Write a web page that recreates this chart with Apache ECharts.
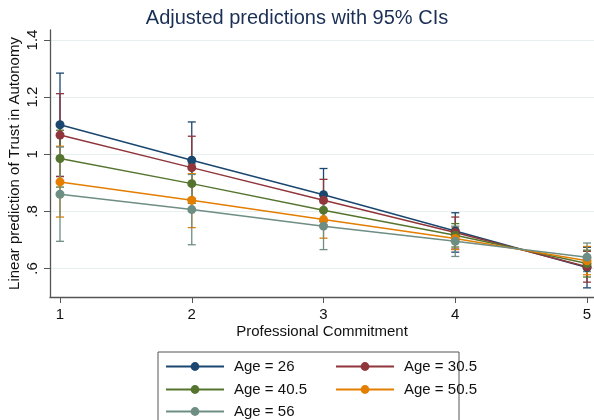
<!DOCTYPE html>
<html>
<head>
<meta charset="utf-8">
<script src="https://cdn.jsdelivr.net/npm/echarts@6/dist/echarts.min.js"></script>
<style>
  html, body { margin: 0; padding: 0; background: #fff; }
  #chart { width: 594px; height: 420px; }
</style>
</head>
<body>
<div id="chart"></div>
<script>
// professional commitment levels
var xValues = [1, 2, 3, 4, 5];
var yTicks = [0.6, 0.8, 1, 1.2, 1.4];

var seriesNames = ['Age = 26', 'Age = 30.5', 'Age = 40.5', 'Age = 50.5', 'Age = 56'];
var seriesColors = ['#1a476f', '#90353b', '#55752f', '#e37e00', '#6e8e84'];

// predictions and 95% CI bounds
var age26 = [1.103, 0.979, 0.858, 0.731, 0.603];
var age26Low = [0.922, 0.845, 0.766, 0.657, 0.532];
var age26High = [1.284, 1.113, 0.950, 0.795, 0.674];

var age30 = [1.067, 0.953, 0.839, 0.726, 0.606];
var age30Low = [0.922, 0.843, 0.763, 0.668, 0.552];
var age30High = [1.212, 1.063, 0.912, 0.780, 0.660];

var age40 = [0.985, 0.897, 0.804, 0.716, 0.617];
var age40Low = [0.885, 0.828, 0.752, 0.675, 0.570];
var age40High = [1.084, 0.966, 0.857, 0.757, 0.664];

var age50 = [0.903, 0.839, 0.771, 0.705, 0.627];
var age50Low = [0.780, 0.743, 0.706, 0.666, 0.578];
var age50High = [1.028, 0.932, 0.836, 0.745, 0.677];

var age56 = [0.860, 0.806, 0.748, 0.695, 0.639];
var age56Low = [0.695, 0.683, 0.666, 0.642, 0.589];
var age56High = [1.025, 0.929, 0.830, 0.748, 0.689];

var preds = [age26, age30, age40, age50, age56];
var lows = [age26Low, age30Low, age40Low, age50Low, age56Low];
var highs = [age26High, age30High, age40High, age50High, age56High];

var font = 'Liberation Sans, Arial, sans-serif';

function errorBar(params, api) {
    var x = api.value(0);
    var top = api.coord([x, api.value(2)]);
    var bot = api.coord([x, api.value(1)]);
    var half = 4;
    var style = { stroke: api.visual('color'), lineWidth: 1.3, fill: null };
    return {
        type: 'group',
        children: [
            { type: 'line', shape: { x1: top[0], y1: top[1], x2: bot[0], y2: bot[1] }, style: style },
            { type: 'line', shape: { x1: top[0] - half, y1: top[1], x2: top[0] + half, y2: top[1] }, style: style },
            { type: 'line', shape: { x1: bot[0] - half, y1: bot[1], x2: bot[0] + half, y2: bot[1] }, style: style }
        ]
    };
}

var series = [];
seriesNames.forEach(function (name, i) {
    series.push({
        name: name + ' CI',
        type: 'custom',
        renderItem: errorBar,
        itemStyle: { color: seriesColors[i] },
        encode: { x: 0, y: [1, 2] },
        data: xValues.map(function (x, k) { return [x, lows[i][k], highs[i][k]]; }),
        z: 1,
        silent: true
    });
});
seriesNames.forEach(function (name, i) {
    series.push({
        name: name,
        type: 'line',
        symbol: 'circle',
        symbolSize: 9,
        color: seriesColors[i],
        lineStyle: { width: 1.5 },
        data: xValues.map(function (x, k) { return [x, preds[i][k]]; }),
        z: 3,
        animation: false
    });
});

// legend slots (two columns inside the box)
var legendPos = [[165, 359], [335, 359], [165, 382], [335, 382], [165, 404]];
var legends = seriesNames.map(function (name, i) {
    return {
        data: [name],
        left: legendPos[i][0],
        top: legendPos[i][1],
        padding: 0,
        itemWidth: 58,
        itemHeight: 11,
        textStyle: { fontSize: 15, fontFamily: font, color: '#111', padding: [0, 0, 0, 5] }
    };
});

var chart = echarts.init(document.getElementById('chart'));
chart.setOption({
    backgroundColor: '#fff',
    animation: false,
    title: {
        text: 'Adjusted predictions with 95% CIs',
        left: 'center',
        top: 3,
        textStyle: { fontSize: 20, fontWeight: 'normal', fontFamily: font, color: '#1a2f55' }
    },
    legend: legends,
    graphic: [{
        type: 'rect',
        shape: { x: 158, y: 352, width: 301, height: 80 },
        style: { fill: null, stroke: '#555', lineWidth: 1 }
    }],
    grid: { left: 50, right: 0, top: 30, bottom: 123, outerBoundsMode: 'none', containLabel: false },
    xAxis: {
        type: 'value',
        min: 0.924,
        max: 5.053,
        name: 'Professional Commitment',
        nameLocation: 'middle',
        nameGap: 27,
        nameMoveOverlap: false,
        nameTextStyle: { fontSize: 15, fontFamily: font, color: '#111' },
        axisLine: { lineStyle: { color: '#555', width: 1.3 } },
        axisTick: { customValues: xValues, length: 6, lineStyle: { color: '#555' } },
        axisLabel: { customValues: xValues, fontSize: 15, fontFamily: font, color: '#111', margin: 10 },
        splitLine: { show: false }
    },
    yAxis: {
        type: 'value',
        min: 0.5,
        max: 1.435,
        name: 'Linear prediction of Trust in Autonomy',
        nameLocation: 'middle',
        nameGap: 28,
        nameMoveOverlap: false,
        nameTextStyle: { fontSize: 15, fontFamily: font, color: '#111' },
        axisLine: { show: true, lineStyle: { color: '#555', width: 1.3 } },
        axisTick: { show: true, customValues: yTicks, length: 6, lineStyle: { color: '#555' } },
        axisLabel: {
            customValues: yTicks,
            rotate: 90,
            fontSize: 15,
            fontFamily: font,
            color: '#111',
            margin: 10,
            formatter: function (v) { return String(v).replace(/^0\./, '.'); }
        },
        splitLine: { show: true, lineStyle: { color: '#e6f0f1', width: 1 } }
    },
    series: series
});
</script>
</body>
</html>
